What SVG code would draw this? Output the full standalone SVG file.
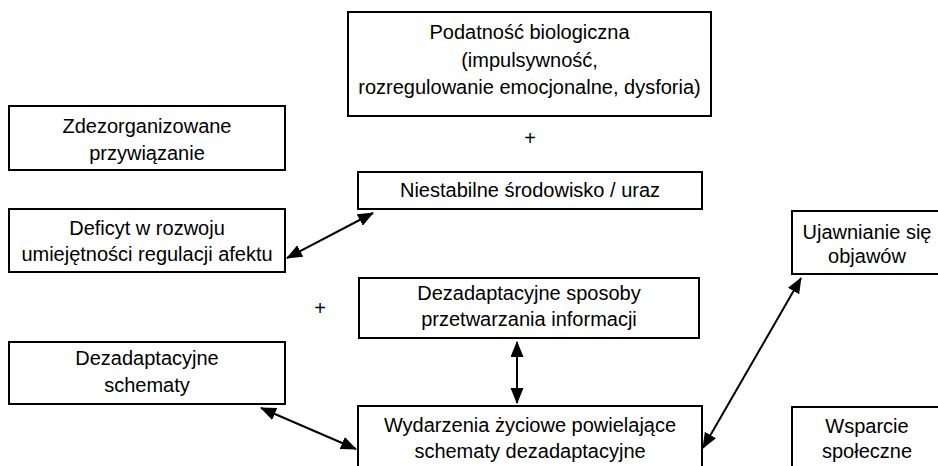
<svg xmlns="http://www.w3.org/2000/svg" width="938" height="466" viewBox="0 0 938 466">
<style>
.box{fill:#fff;stroke:#000;stroke-width:2}
text{font-family:"Liberation Sans",Arial,sans-serif;font-size:20px;fill:#000;text-anchor:middle}
.c{stroke:#000;stroke-width:2;fill:none;marker-start:url(#ah);marker-end:url(#ah)}
</style>
<defs>
<marker id="ah" markerUnits="userSpaceOnUse" markerWidth="16" markerHeight="14" refX="15" refY="6.5" orient="auto-start-reverse">
<path d="M0,0 L16,6.5 L0,13 z" fill="#000"/>
</marker>
</defs>
<rect width="938" height="466" fill="#fff"/>
<g id="n-podatnosc">
<rect class="box" x="348" y="12" width="363" height="104"/>
<text x="529.5" y="39">Podatność biologiczna</text>
<text x="529.5" y="67">(impulsywność,</text>
<text x="529.5" y="94">rozregulowanie emocjonalne, dysforia)</text>
</g>
<g id="n-zdezorganizowane">
<rect class="box" x="9" y="106" width="276" height="64"/>
<text x="147" y="133">Zdezorganizowane</text>
<text x="147" y="160">przywiązanie</text>
</g>
<g id="n-niestabilne">
<rect class="box" x="358" y="172" width="344" height="37"/>
<text x="530" y="197">Niestabilne środowisko / uraz</text>
</g>
<g id="n-deficyt">
<rect class="box" x="9" y="209" width="276" height="63"/>
<text x="147" y="235">Deficyt w rozwoju</text>
<text x="147" y="261">umiejętności regulacji afektu</text>
</g>
<g id="n-sposoby">
<rect class="box" x="359" y="278" width="340" height="60"/>
<text x="529" y="300">Dezadaptacyjne sposoby</text>
<text x="529" y="326">przetwarzania informacji</text>
</g>
<g id="n-schematy">
<rect class="box" x="9" y="342" width="276" height="62"/>
<text x="147" y="365">Dezadaptacyjne</text>
<text x="147" y="392">schematy</text>
</g>
<g id="n-wydarzenia">
<rect class="box" x="358" y="406" width="344" height="70"/>
<text x="530" y="432">Wydarzenia życiowe powielające</text>
<text x="530" y="458">schematy dezadaptacyjne</text>
</g>
<g id="n-ujawnianie">
<rect class="box" x="792" y="211" width="150" height="63"/>
<text x="867" y="239">Ujawnianie się</text>
<text x="867" y="263">objawów</text>
</g>
<g id="n-wsparcie">
<rect class="box" x="792" y="407" width="150" height="70"/>
<text x="867" y="433">Wsparcie</text>
<text x="867" y="458">społeczne</text>
</g>
<g id="plus">
<text x="530" y="145">+</text>
<text x="320" y="315">+</text>
</g>
<g id="connectors">
<line class="c" x1="287" y1="258" x2="373" y2="213"/>
<line class="c" x1="517" y1="342" x2="517" y2="403"/>
<line class="c" x1="703" y1="448" x2="801" y2="278"/>
<line class="c" x1="261" y1="408" x2="356" y2="449"/>
</g>
</svg>
